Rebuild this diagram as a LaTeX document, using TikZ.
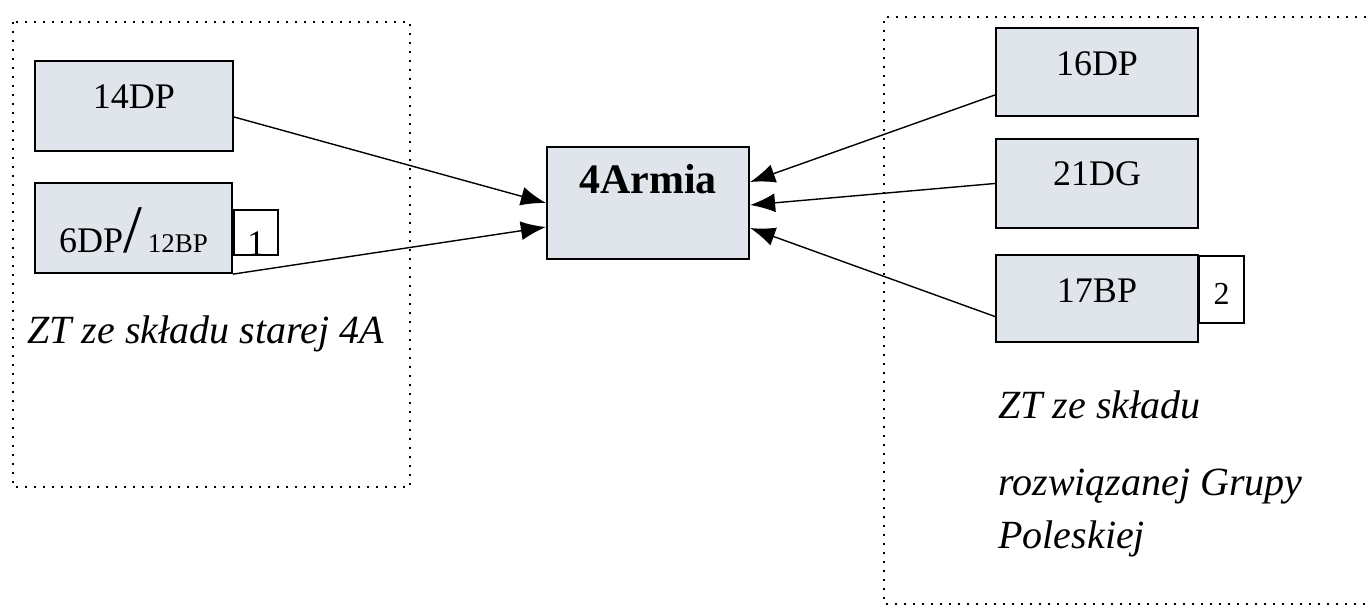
\documentclass[tikz,border=0pt]{standalone}
\usepackage{fontspec}
\setmainfont{Liberation Serif}
\usepackage{tikz}
\usetikzlibrary{arrows.meta}
\definecolor{boxfill}{RGB}{223,229,235}
\tikzset{
	unit/.style={draw, line width=1.1pt, fill=boxfill, inner sep=0pt, minimum width=101pt, minimum height=44pt, font=\fontsize{18}{20}\selectfont, text height=2.5pt, text depth=0pt},
	tag/.style={draw, line width=1.1pt, fill=white, inner sep=0pt, anchor=north west, font=\fontsize{16}{18}\selectfont, text depth=0pt},
	group/.style={line width=1pt, dash pattern=on 1pt off 3.5pt},
	note/.style={anchor=base west, inner sep=0pt, font=\fontsize{20}{24}\selectfont\itshape},
	link/.style={->, >={Latex[length=12.5pt,width=9.5pt]}, line width=0.7pt}
}

\begin{document}
\begin{tikzpicture}[x=0.5pt, y=-0.5pt]
		\useasboundingbox (0,0) rectangle (1366,606);
		\clip (0,0) rectangle (1366,606);
		\draw[group] (13,22) rectangle (410,487);
		\draw[group] (1420,17) -- (884,17) -- (884,604) -- (1420,604);
		\node[unit, minimum width=99pt, minimum height=45pt, text height=2pt] (d14) at (134,106) {14DP};
		\node[unit, minimum width=98.5pt, minimum height=45pt, text height=24pt] (dp6) at (133.5,228) {6DP{\fontsize{34}{34}\selectfont/}\,{\fontsize{13.5}{14}\selectfont 12BP}};
		\node[tag, minimum width=22pt, minimum height=22.5pt, text height=22.5pt, font=\fontsize{18}{20}\selectfont] (t1) at (233,209) {1};
		\node[unit, minimum height=56pt, text height=0pt, text depth=10pt, font=\fontsize{21}{24}\selectfont\bfseries] (armia) at (648,203) {4Armia};
		\node[unit, text height=3pt] (d16) at (1097,72) {16DP};
		\node[unit, minimum height=44.5pt, text height=1.5pt] (dg21) at (1097,183.5) {21DG};
		\node[unit, minimum height=43.5pt, text height=3.5pt] (bp17) at (1097,298.5) {17BP};
		\node[tag, minimum width=22.5pt, minimum height=33.5pt, text height=14.5pt] (t2) at (1198,255) {2};
		\node[note] (old) at (27,343) {ZT ze składu starej 4A};
		\node[note] (gp1) at (998,418) {ZT ze składu};
		\node[note] (gp2) at (998,495) {rozwiązanej Grupy};
		\node[note] (gp3) at (998,548) {Poleskiej};
		\draw[link] ([yshift=-5.5pt]d14.east) -- (armia.west);
		\draw[link] (dp6.south east) -- ([yshift=-12pt]armia.west);
		\draw[link] ([yshift=-11.5pt]d16.west) -- ([yshift=10.5pt]armia.east);
		\draw[link] (dg21.west) -- ([yshift=-1pt]armia.east);
		\draw[link] ([yshift=-9pt]bp17.west) -- ([yshift=-12.5pt]armia.east);
\end{tikzpicture}
\end{document}
